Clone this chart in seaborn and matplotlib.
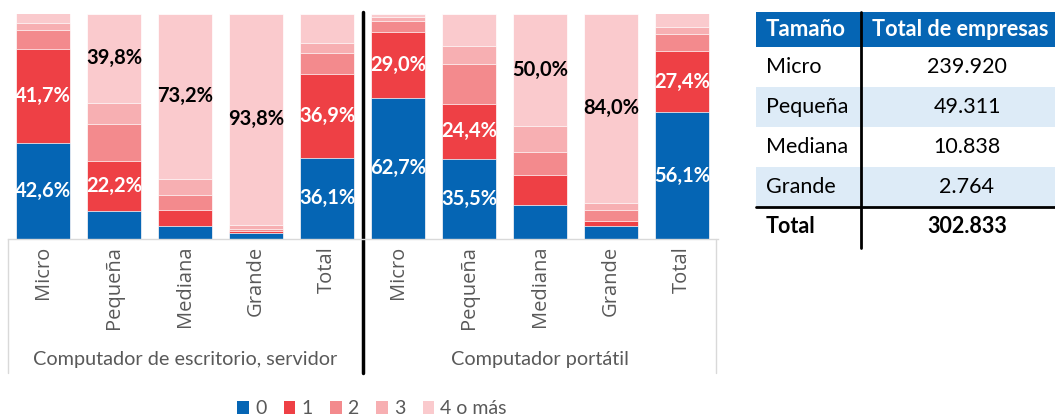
import matplotlib
matplotlib.use("Agg")
import matplotlib.pyplot as plt
import seaborn as sns
import pandas as pd
import numpy as np
from matplotlib.patches import Rectangle, Patch

# categories
groups = ["Computador de escritorio, servidor", "Computador portátil"]
sizes = ["Micro", "Pequeña", "Mediana", "Grande", "Total"]
levels = ["0", "1", "2", "3", "4 o más"]

# % of firms by number of devices; first 5 = escritorio, last 5 = portátil
lvl_0 = [42.6, 12.2, 5.6, 2.5, 36.1, 62.7, 35.5, 14.9, 5.7, 56.1]
lvl_1 = [41.7, 22.2, 7.2, 1.0, 36.9, 29.0, 24.4, 13.4, 2.2, 27.4]
lvl_2 = [8.4, 16.5, 6.8, 0.9, 9.6, 5.1, 17.5, 10.2, 5.0, 7.4]
lvl_3 = [3.2, 9.3, 7.2, 1.8, 4.3, 1.8, 8.3, 11.5, 3.1, 3.2]
lvl_4 = [4.1, 39.8, 73.2, 93.8, 13.1, 1.4, 14.3, 50.0, 84.0, 5.9]

# side table
tabla_tamano = ["Micro", "Pequeña", "Mediana", "Grande"]
tabla_empresas = [239920, 49311, 10838, 2764]
tabla_total = 302833

colors = ["#0565B4", "#EE4045", "#F38A8D", "#F7AFB2", "#FACACD"]
txt_gray = "#595959"

sns.set_theme(style="white")
plt.rcParams["font.family"] = ["Lato", "DejaVu Sans"]

# long table
keys = [f"{g}|{s}" for g in groups for s in sizes]
series = [lvl_0, lvl_1, lvl_2, lvl_3, lvl_4]
rows = []
for j, k in enumerate(keys):
    cum = 0
    for lv, vals in zip(levels, series):
        cum += vals[j]
        rows.append({"key": k, "pos": j, "level": lv, "value": vals[j], "cum": cum})
df = pd.DataFrame(rows)

W, H = 1055, 418
fig = plt.figure(figsize=(W / 100, H / 100), dpi=100)

# table overlay in pixel coordinates
tax = fig.add_axes([0, 0, 1, 1])
tax.set_xlim(0, W)
tax.set_ylim(H, 0)
tax.axis("off")
tax.patch.set_alpha(0)

ax = fig.add_axes([7.5 / W, (H - 239) / H, 710 / W, 225.5 / H])

# stacked bars: draw cumulative layers from top level down
for lv, col in reversed(list(zip(levels, colors))):
    sub = df[df["level"] == lv]
    sns.barplot(data=sub, x="key", y="cum", order=keys, color=col, saturation=1,
                width=0.77, errorbar=None, edgecolor="white", linewidth=0.5, ax=ax)

# value labels
for _, r in df.iterrows():
    if r["value"] >= 20:
        c = "black" if r["level"] == "4 o más" else "white"
        ax.text(r["pos"], r["cum"] - r["value"] / 2,
                f"{r['value']:.1f}%".replace(".", ","),
                ha="center", va="center", fontsize=14.5, fontweight="bold", color=c)

ax.set_xlim(-0.5, 9.5)
ax.set_ylim(0, 100)
ax.set_xlabel("")
ax.set_ylabel("")
ax.set_yticks([])
ax.set_xticks(range(len(keys)))
ax.set_xticklabels(sizes * 2, rotation=90, fontsize=14.5, color=txt_gray,
                   family=["Open Sans", "DejaVu Sans"])
ax.tick_params(axis="x", length=0, pad=5)
for s in ["top", "left", "right"]:
    ax.spines[s].set_visible(False)
ax.spines["bottom"].set_color("#D9D9D9")
ax.spines["bottom"].set_linewidth(1)

# multi-level category frame and separator
low = -(373 - 239) / 2.255
ax.plot([-0.49, -0.49], [0, low], color="#D9D9D9", lw=1, clip_on=False)
ax.plot([9.48, 9.48], [0, low], color="#D9D9D9", lw=1, clip_on=False)
ax.plot([4.5, 4.5], [100.7, low], color="black", lw=2.5, clip_on=False)
for gi, g in enumerate(groups):
    ax.text(gi * 5 + 2, -(360 - 239) / 2.255, g, ha="center", va="center",
            fontsize=14.3, color=txt_gray)

handles = [Patch(facecolor=c, edgecolor="none", label=l) for l, c in zip(levels, colors)]
fig.legend(handles=handles, loc="center", bbox_to_anchor=(372 / W, 1 - 409 / H),
           ncol=5, frameon=False, fontsize=14, labelcolor=txt_gray,
           handlelength=0.6, handleheight=0.6, handletextpad=0.3, columnspacing=0.9)

# side table
tx0, tx1, tdiv = 756, W + 5, 860.7
hy0, hy1, rh = 11.7, 46.7, 40
tax.add_patch(Rectangle((tx0, hy0), tx1 - tx0, hy1 - hy0, color="#0565B4", lw=0))
tax.text(766, (hy0 + hy1) / 2, "Tamaño", ha="left", va="center", color="white",
         fontsize=16, fontweight="bold")
tax.text(872, (hy0 + hy1) / 2, "Total de empresas", ha="left", va="center",
         color="white", fontsize=15.6, fontweight="bold")
for i, (t, n) in enumerate(zip(tabla_tamano, tabla_empresas)):
    y0 = hy1 + i * rh
    if i % 2 == 1:
        tax.add_patch(Rectangle((tx0, y0), tx1 - tx0, rh, color="#DDEBF7", lw=0))
    tax.text(766, y0 + rh / 2, t, ha="left", va="center", fontsize=15.5, color="black")
    tax.text(967, y0 + rh / 2, f"{n:,}".replace(",", "."), ha="center", va="center",
             fontsize=15.5, color="black")
ty0 = hy1 + len(tabla_tamano) * rh
tax.text(766, ty0 + rh / 2, "Total", ha="left", va="center", fontsize=15.5,
         fontweight="bold", color="black")
tax.text(967, ty0 + rh / 2, f"{tabla_total:,}".replace(",", "."), ha="center",
         va="center", fontsize=15.5, fontweight="bold", color="black")
tax.plot([tx0, W], [ty0, ty0], color="black", lw=2)
tax.plot([tdiv, tdiv], [hy0, ty0 + rh + 1], color="black", lw=2)

fig.savefig("out.png", dpi=100)
